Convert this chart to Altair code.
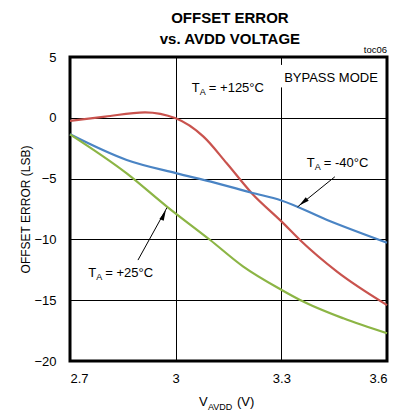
import altair as alt
import pandas as pd

# ---- data ----
volt_hot = [2.7, 2.8, 2.913, 3.0, 3.079, 3.145, 3.216, 3.301, 3.353, 3.458, 3.6]
err_hot = [-0.26, 0.1, 0.45, -0.04, -1.55, -3.74, -6.2, -8.54, -10.05, -12.65, -15.4]

volt_cold = [2.7, 2.861, 3.003, 3.1, 3.216, 3.3, 3.43, 3.6]
err_cold = [-1.36, -3.47, -4.57, -5.25, -6.16, -6.8, -8.4, -10.27]

volt_room = [2.7, 2.861, 2.975, 3.098, 3.192, 3.301, 3.353, 3.476, 3.6]
err_room = [-1.36, -4.57, -7.3, -10.05, -12.24, -14.16, -14.98, -16.49, -17.72]

x_ticks = [2.7, 3.0, 3.3, 3.6]
y_ticks = [-20, -15, -10, -5, 0, 5]

title_lines = ["OFFSET ERROR", "vs. AVDD VOLTAGE"]

FONT = "Liberation Sans, Arial, sans-serif"
C_HOT = "#c9534e"
C_COLD = "#4a84c4"
C_ROOM = "#8cb545"

rows = []
for v, e in zip(volt_hot, err_hot):
    rows.append({"v": v, "e": e, "s": "hot"})
for v, e in zip(volt_cold, err_cold):
    rows.append({"v": v, "e": e, "s": "cold"})
for v, e in zip(volt_room, err_room):
    rows.append({"v": v, "e": e, "s": "room"})
df = pd.DataFrame(rows)

xs = alt.Scale(domain=[2.7, 3.6], nice=False, zero=False)
ys = alt.Scale(domain=[-20, 5], nice=False, zero=False)

X = alt.X("v:Q", scale=xs, axis=alt.Axis(
    values=x_ticks, format="~g", title=None, grid=True, gridColor="black",
    gridWidth=1, gridOpacity=1, domain=False, ticks=False, labelFont=FONT,
    labelFontSize=13, labelColor="black", labelPadding=11))
Y = alt.Y("e:Q", scale=ys, axis=alt.Axis(
    values=y_ticks, title="OFFSET ERROR (LSB)", grid=True, gridColor="black",
    gridWidth=1, gridOpacity=1, domain=False, ticks=False, labelFont=FONT,
    labelFontSize=13, labelColor="black", labelPadding=14, titleFont=FONT,
    titleFontSize=12, titleFontWeight="normal", titleColor="black",
    titlePadding=1))

lines = alt.Chart(df).mark_line(strokeWidth=2.2, interpolate="monotone").encode(
    x=X, y=Y,
    color=alt.Color("s:N", scale=alt.Scale(domain=["hot", "cold", "room"],
                                            range=[C_HOT, C_COLD, C_ROOM]),
                    legend=None),
)

def pos():
    return dict(x=alt.X("x:Q", scale=xs), y=alt.Y("y:Q", scale=ys))

# chart title as text lines
tt = pd.DataFrame({"x": [3.154, 3.154], "y": [7.8, 6.07], "t": title_lines})
title_mark = alt.Chart(tt).mark_text(align="center", baseline="alphabetic", font=FONT,
                                      fontSize=15, fontWeight="bold", color="black").encode(
    text="t:N", **pos())

# annotation texts (T with subscript A)
big = pd.DataFrame({
    "x": [3.046, 3.372, 2.752],
    "y": [2.12, -4.02, -13.07],
    "t": ["= +125°C", "= -40°C", "= +25°C"],
})
t_mark = alt.Chart(big).mark_text(align="left", baseline="alphabetic", font=FONT,
                                   fontSize=13, color="black").encode(
    text=alt.value("T"), **pos())
a_mark = alt.Chart(big).mark_text(align="left", baseline="alphabetic", font=FONT,
                                   fontSize=9, color="black", dx=8, dy=3).encode(
    text=alt.value("A"), **pos())
rest_mark = alt.Chart(big).mark_text(align="left", baseline="alphabetic", font=FONT,
                                      fontSize=13, color="black", dx=17).encode(
    text="t:N", **pos())

# white gap in the 3.3 gridline behind BYPASS MODE
gap = pd.DataFrame({"x": [3.296], "x2": [3.304], "y": [2.5], "y2": [4.35]})
gap_mark = alt.Chart(gap).mark_rect(color="white").encode(
    x=alt.X("x:Q", scale=xs), x2="x2:Q", y=alt.Y("y:Q", scale=ys), y2="y2:Q")

bypass = pd.DataFrame({"x": [3.308], "y": [2.94], "t": ["BYPASS MODE"]})
bypass_mark = alt.Chart(bypass).mark_text(align="left", baseline="alphabetic", font=FONT,
                                           fontSize=13, color="black").encode(
    text="t:N", **pos())

toc = pd.DataFrame({"x": [3.6], "y": [5.35], "t": ["toc06"]})
toc_mark = alt.Chart(toc).mark_text(align="right", baseline="alphabetic", font=FONT,
                                     fontSize=9.5, color="black").encode(
    text="t:N", **pos())

# x-axis title with subscript
xt_parts = [("V", 0, 0, 13), ("AVDD", 9, 4, 9), ("(V)", 38, 0, 13)]
xt_marks = []
for t, dx, dy, fs in xt_parts:
    d = pd.DataFrame({"x": [3.066], "y": [-23.7], "t": [t]})
    xt_marks.append(alt.Chart(d).mark_text(
        align="left", baseline="alphabetic", font=FONT, fontSize=fs,
        color="black", dx=dx, dy=dy).encode(text="t:N", **pos()))

# arrows
arrows = pd.DataFrame({
    "x": [3.452, 3.346, 2.893, 2.975],
    "y": [-4.85, -7.33, -11.7, -7.4],
    "a": ["cold", "cold", "room", "room"],
    "o": [0, 1, 0, 1],
})
arrow_lines = alt.Chart(arrows).mark_line(color="black", strokeWidth=1).encode(
    detail="a:N", order="o:Q", **pos())
heads = pd.DataFrame({
    "x": [3.362, 2.966],
    "y": [-6.95, -8.0],
    "ang": [231, 24],
})
head_marks = alt.Chart(heads).mark_point(
    shape="M0,-1L0.45,1L-0.45,1Z", filled=True, color="black", size=110, opacity=1).encode(
    angle=alt.Angle("ang:Q", scale=None), **pos())

chart = alt.layer(
    lines, gap_mark, bypass_mark, arrow_lines, head_marks, t_mark, a_mark, rest_mark,
    toc_mark, title_mark, *xt_marks
).properties(
    width=317, height=304,
    autosize=alt.AutoSizeParams(type="none"),
    padding={"left": 62, "top": 49, "right": 8, "bottom": 50},
).configure_view(stroke="black", strokeWidth=3)

chart.save("out.html", embed_options={"renderer": "svg", "actions": False})
